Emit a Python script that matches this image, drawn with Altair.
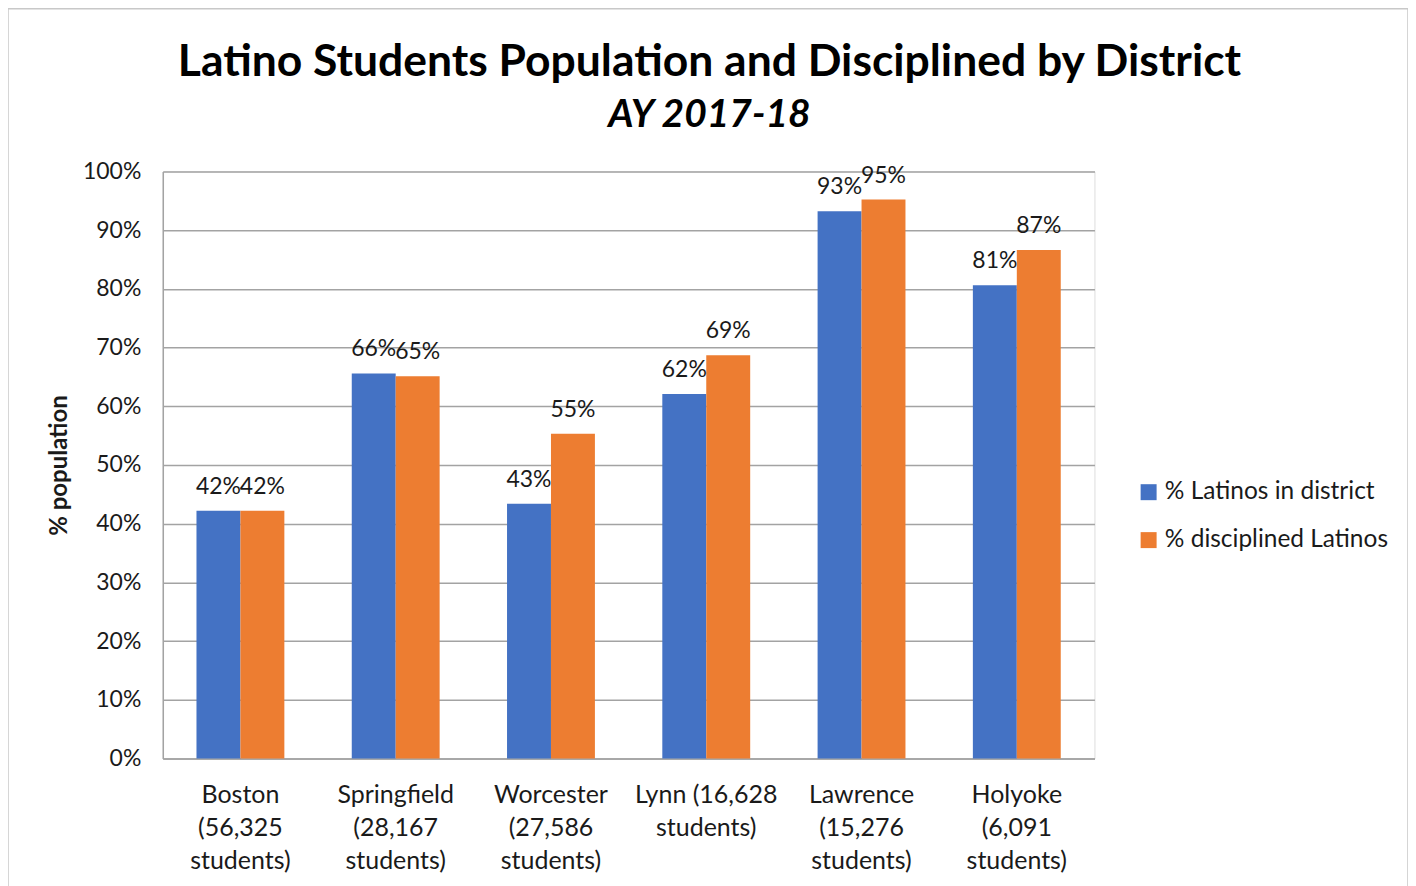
import altair as alt
import pandas as pd

districts = [
    "Boston\n(56,325\nstudents)",
    "Springfield\n(28,167\nstudents)",
    "Worcester\n(27,586\nstudents)",
    "Lynn (16,628\nstudents)",
    "Lawrence\n(15,276\nstudents)",
    "Holyoke\n(6,091\nstudents)",
]
series = ["% Latinos in district", "% disciplined Latinos"]
latinos_in_district = [0.422, 0.656, 0.434, 0.621, 0.932, 0.806]
disciplined_latinos = [0.422, 0.651, 0.553, 0.687, 0.952, 0.866]
colors = ["#4472C4", "#ED7D31"]

rows = []
for d, a, b in zip(districts, latinos_in_district, disciplined_latinos):
    rows.append({"district": d, "series": series[0], "value": a})
    rows.append({"district": d, "series": series[1], "value": b})
df = pd.DataFrame(rows)

FONT = "Lato"
TXT = "#1a1a1a"
GRID = "#a3a3a3"

W, H = 933, 588

x_enc = alt.X(
    "district:N",
    sort=districts,
    title=None,
    scale=alt.Scale(paddingInner=0.434, paddingOuter=0.217),
    axis=alt.Axis(
        labelExpr="split(datum.label, '\\n')",
        labelAngle=0,
        labelFontSize=25,
        labelFont=FONT,
        labelColor=TXT,
        labelLineHeight=33,
        labelPadding=24,
        labelBaseline="top",
        ticks=False,
        domainColor=GRID,
        domainWidth=1.5,
        grid=False,
    ),
)
xoff = alt.XOffset("series:N", sort=series)

y_enc = alt.Y(
    "value:Q",
    scale=alt.Scale(domain=[0, 1], nice=False),
    axis=alt.Axis(
        format=".0%",
        values=[i / 10 for i in range(11)],
        title="% population",
        titleFont=FONT,
        titleFontSize=24,
        titleFontWeight="bold",
        titleColor=TXT,
        titleX=-103,
        titleY=H / 2,
        titleAngle=-90,
        titleAlign="center",
        titleBaseline="middle",
        labelFontSize=23,
        labelFont=FONT,
        labelColor=TXT,
        labelPadding=22,
        ticks=False,
        domainColor=GRID,
        domainWidth=1.5,
        gridColor=GRID,
        gridWidth=1.5,
    ),
)

color_enc = alt.Color(
    "series:N",
    sort=series,
    scale=alt.Scale(domain=series, range=colors),
    legend=alt.Legend(
        title=None,
        orient="none",
        legendX=975,
        legendY=309,
        symbolType="square",
        symbolSize=256,
        symbolStrokeWidth=0,
        labelFontSize=24.5,
        labelFont=FONT,
        labelColor=TXT,
        labelOffset=4,
        labelLimit=0,
        rowPadding=23,
    ),
)

bars = alt.Chart(df).mark_bar(size=44).encode(
    x=x_enc, xOffset=xoff, y=y_enc, color=color_enc
)

labels = alt.Chart(df).mark_text(
    baseline="bottom", dy=-12, fontSize=23, font=FONT, color=TXT
).encode(
    x=alt.X("district:N", sort=districts),
    xOffset=xoff,
    y="value:Q",
    text=alt.Text("value:Q", format=".0%"),
)

frame_df = pd.DataFrame({"k": [0]})
frame = alt.Chart(frame_df).mark_rect(
    fill=None, stroke="#c8c8c8", strokeWidth=1.5, clip=False
).encode(
    x=alt.value(-155), x2=alt.value(1247), y=alt.value(-163), y2=alt.value(740)
)

chart = (
    alt.layer(frame, bars, labels)
    .properties(
        width=W,
        height=H,
        autosize=alt.AutoSizeParams(type="none"),
        padding={"left": 155, "top": 163, "right": 314, "bottom": 127},
        title=alt.TitleParams(
            text="Latino Students Population and Disciplined by District",
            subtitle="AY 2017-18",
            anchor="middle",
            dx=81,
            offset=-128,
            font=FONT,
            fontSize=44.5,
            fontWeight="bold",
            color="#000000",
            subtitleFont=FONT,
            subtitleFontSize=39,
            subtitleFontWeight="bold",
            subtitleFontStyle="italic",
            subtitleColor="#000000",
            subtitlePadding=10,
        ),
    )
    .configure_view(stroke=None)
    .configure(background="white")
)

chart.save("out.html", embed_options={"renderer": "svg", "actions": False})
